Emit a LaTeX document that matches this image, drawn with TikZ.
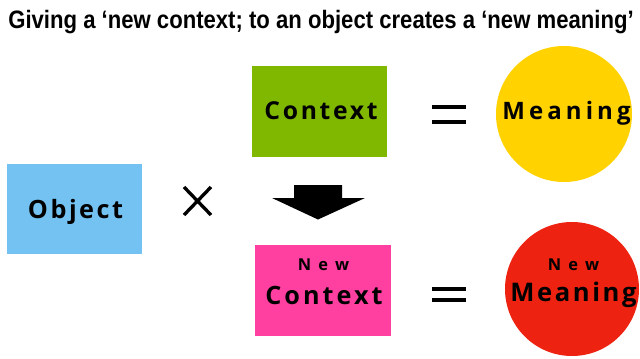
\documentclass[tikz,border=0pt]{standalone}
\usepackage{fontspec}
\usepackage{graphicx}
\setmainfont{Liberation Sans}
\newfontfamily\wordfont{Open Sans}
\definecolor{ctxgreen}{HTML}{80B800}
\definecolor{objblue}{HTML}{73C2F2}
\definecolor{newpink}{HTML}{FF40A0}
\definecolor{mngyellow}{HTML}{FFD200}
\definecolor{mngred}{HTML}{EE2210}
\tikzset{every picture/.style={line width=0.75pt}}
\tikzset{
  word/.style={inner sep=0pt, anchor=base, font=\wordfont\bfseries},
  sym/.style={line width=3pt, line cap=butt},
}

\begin{document}
\begin{tikzpicture}[x=0.75pt,y=0.75pt,yscale=-1,xscale=1]
    \useasboundingbox (0,0) rectangle (640,358);

    %Shape: Rectangle [id:ctx]
    \fill [ctxgreen] (252,66) rectangle (387,157) ;
    %Shape: Rectangle [id:obj]
    \fill [objblue] (7,164) rectangle (142,254) ;
    %Shape: Rectangle [id:newctx]
    \fill [newpink] (255,245) rectangle (391,336) ;
    %Shape: Circle [id:mng]
    \fill [mngyellow] (564,114) circle [radius=68] ;
    %Shape: Circle [id:newmng]
    \fill [mngred] (572,289) circle [radius=67] ;

    %Shape: Times
    \draw [sym, line width=2.5pt] (184,187) -- (211,215) (211,187) -- (184,215) ;
    %Shape: Equals
    \draw [sym] (432,107) -- (466,107) (432,121.5) -- (466,121.5) ;
    \draw [sym] (432,288.5) -- (466,288.5) (432,299.5) -- (466,299.5) ;
    %Shape: Block Arrow
    \fill (294,185) -- (342,185) -- (342,198) -- (365,198) -- (318,219.5) -- (272,198) -- (294,198) -- cycle ;

    % Text Node
    \node (title) [anchor=base, inner sep=0pt] at (321,28.3) {\resizebox{469pt}{\height}{\fontsize{18.9pt}{20pt}\selectfont\bfseries Giving a ‘new context; to an object creates a ‘new meaning’}};
    % Text Node
    \node (ctxtxt) [word] at (321,119.3) {\fontsize{18.5pt}{20pt}\selectfont\addfontfeatures{LetterSpace=11}Context};
    % Text Node
    \node (objtxt) [word] at (75.5,218.3) {\fontsize{18.9pt}{20pt}\selectfont\addfontfeatures{LetterSpace=10}Object};
    % Text Node
    \node (newtxt) [word] at (323.5,270) {\fontsize{12.3pt}{14pt}\selectfont\addfontfeatures{LetterSpace=45}New};
    % Text Node
    \node (newctxtxt) [word] at (324,304) {\fontsize{18.9pt}{20pt}\selectfont\addfontfeatures{LetterSpace=12}Context};
    % Text Node
    \node (mngtxt) [word] at (566.5,119.3) {\fontsize{18pt}{20pt}\selectfont\addfontfeatures{LetterSpace=17}Meaning};
    % Text Node
    \node (newmtxt) [word] at (573.5,270) {\fontsize{12.3pt}{14pt}\selectfont\addfontfeatures{LetterSpace=45}New};
    % Text Node
    \node (newmngtxt) [word] at (573.5,301.7) {\fontsize{19.2pt}{20pt}\selectfont\addfontfeatures{LetterSpace=10}Meaning};
\end{tikzpicture}
\end{document}
